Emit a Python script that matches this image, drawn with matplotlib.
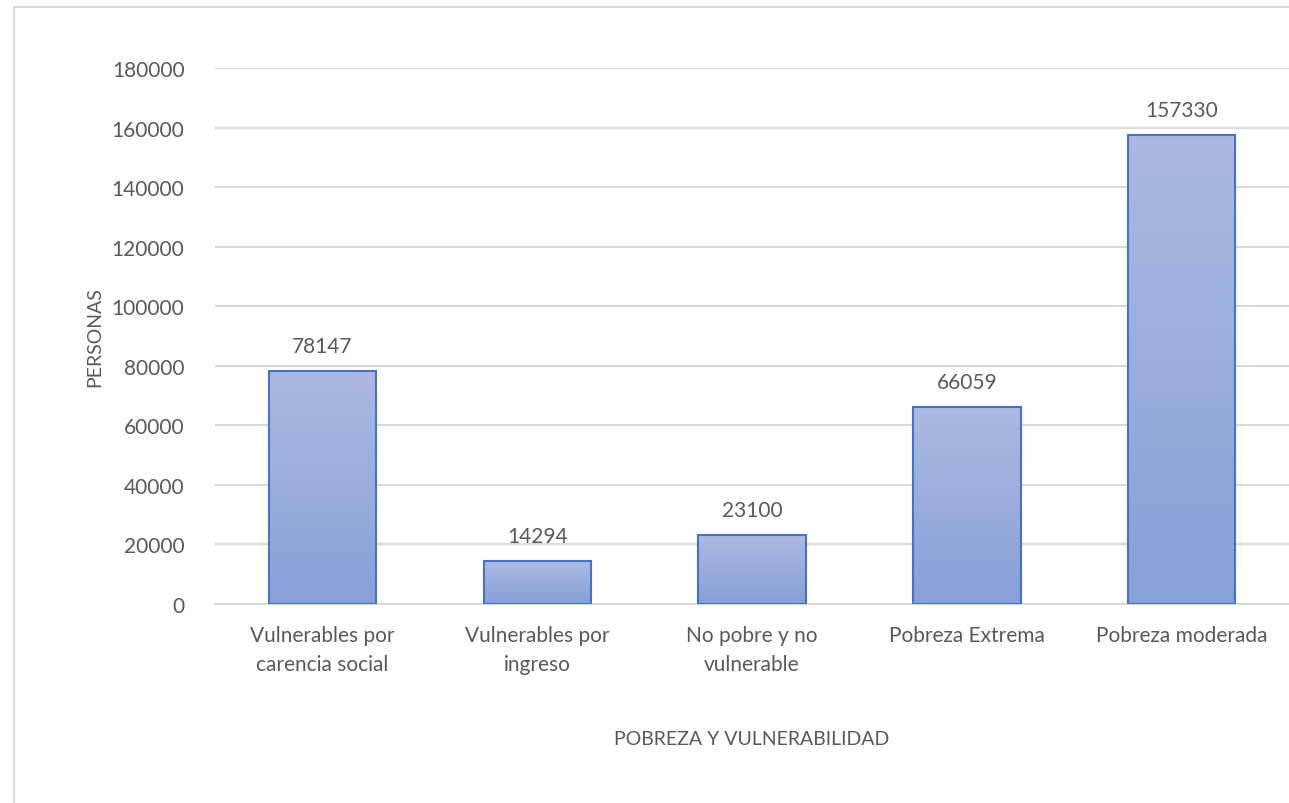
import numpy as np
import matplotlib.pyplot as plt
from matplotlib.patches import Rectangle

# Datos
categorias = ['Vulnerables por\ncarencia social', 'Vulnerables por\ningreso',
              'No pobre y no\nvulnerable', 'Pobreza Extrema', 'Pobreza moderada']
personas = [78147, 14294, 23100, 66059, 157330]
yticks = [0, 20000, 40000, 60000, 80000, 100000, 120000, 140000, 160000, 180000]

plt.rcParams['font.family'] = ['Lato', 'DejaVu Sans']
gris = '#595959'

fig = plt.figure(figsize=(12.89, 8.04), dpi=100)
ax = fig.add_axes([0.1668, 0.2475, 0.8332, 0.6667])

x = np.arange(len(categorias))
bars = ax.bar(x, personas, width=0.5, color='none', edgecolor='#4472C4', linewidth=1.5, zorder=3)

# Degradado vertical dentro de cada barra
grad = np.linspace(0, 1, 256).reshape(-1, 1)
c_top = np.array([172, 185, 226]) / 255
c_bot = np.array([134, 160, 216]) / 255
img = c_bot + (c_top - c_bot) * grad[:, :, None] * np.ones((1, 1, 3))
for b in bars:
    x0, w, h = b.get_x(), b.get_width(), b.get_height()
    im = ax.imshow(img, extent=[x0, x0 + w, 0, h], origin='lower', aspect='auto', zorder=2)
    im.set_clip_path(Rectangle((x0, 0), w, h, transform=ax.transData))

for xi, v in zip(x, personas):
    ax.annotate(str(v), (xi, v), xytext=(0, 11), textcoords='offset points',
                ha='center', va='bottom', fontsize=15, color=gris)

ax.set_xlim(-0.5, len(categorias) - 0.5)
ax.set_ylim(0, 180000)
ax.set_yticks(yticks)
ax.set_yticklabels([str(t) for t in yticks])
ax.set_xticks(x)
ax.set_xticklabels(categorias, linespacing=1.6)
ax.tick_params(axis='both', length=0, labelsize=15, labelcolor=gris)
ax.tick_params(axis='y', pad=22)
ax.tick_params(axis='x', pad=15)
ax.yaxis.grid(True, color='#D9D9D9', linewidth=1.5, zorder=0)
ax.set_axisbelow(True)
for s in ['top', 'right', 'left']:
    ax.spines[s].set_visible(False)
ax.spines['bottom'].set_color('#D9D9D9')
ax.spines['bottom'].set_linewidth(1.5)

ax.set_ylabel('PERSONAS', fontsize=14, color=gris, labelpad=6)
ax.set_xlabel('POBREZA Y VULNERABILIDAD', fontsize=14, color=gris, labelpad=40)

# Borde del gráfico
fig.patches.append(Rectangle((14 / 1289, -0.1), 1.1, 1 - 8 / 804 + 0.1, transform=fig.transFigure,
                             fill=False, edgecolor='#D9D9D9', linewidth=1.5))

fig.savefig('out.png', dpi=100)
